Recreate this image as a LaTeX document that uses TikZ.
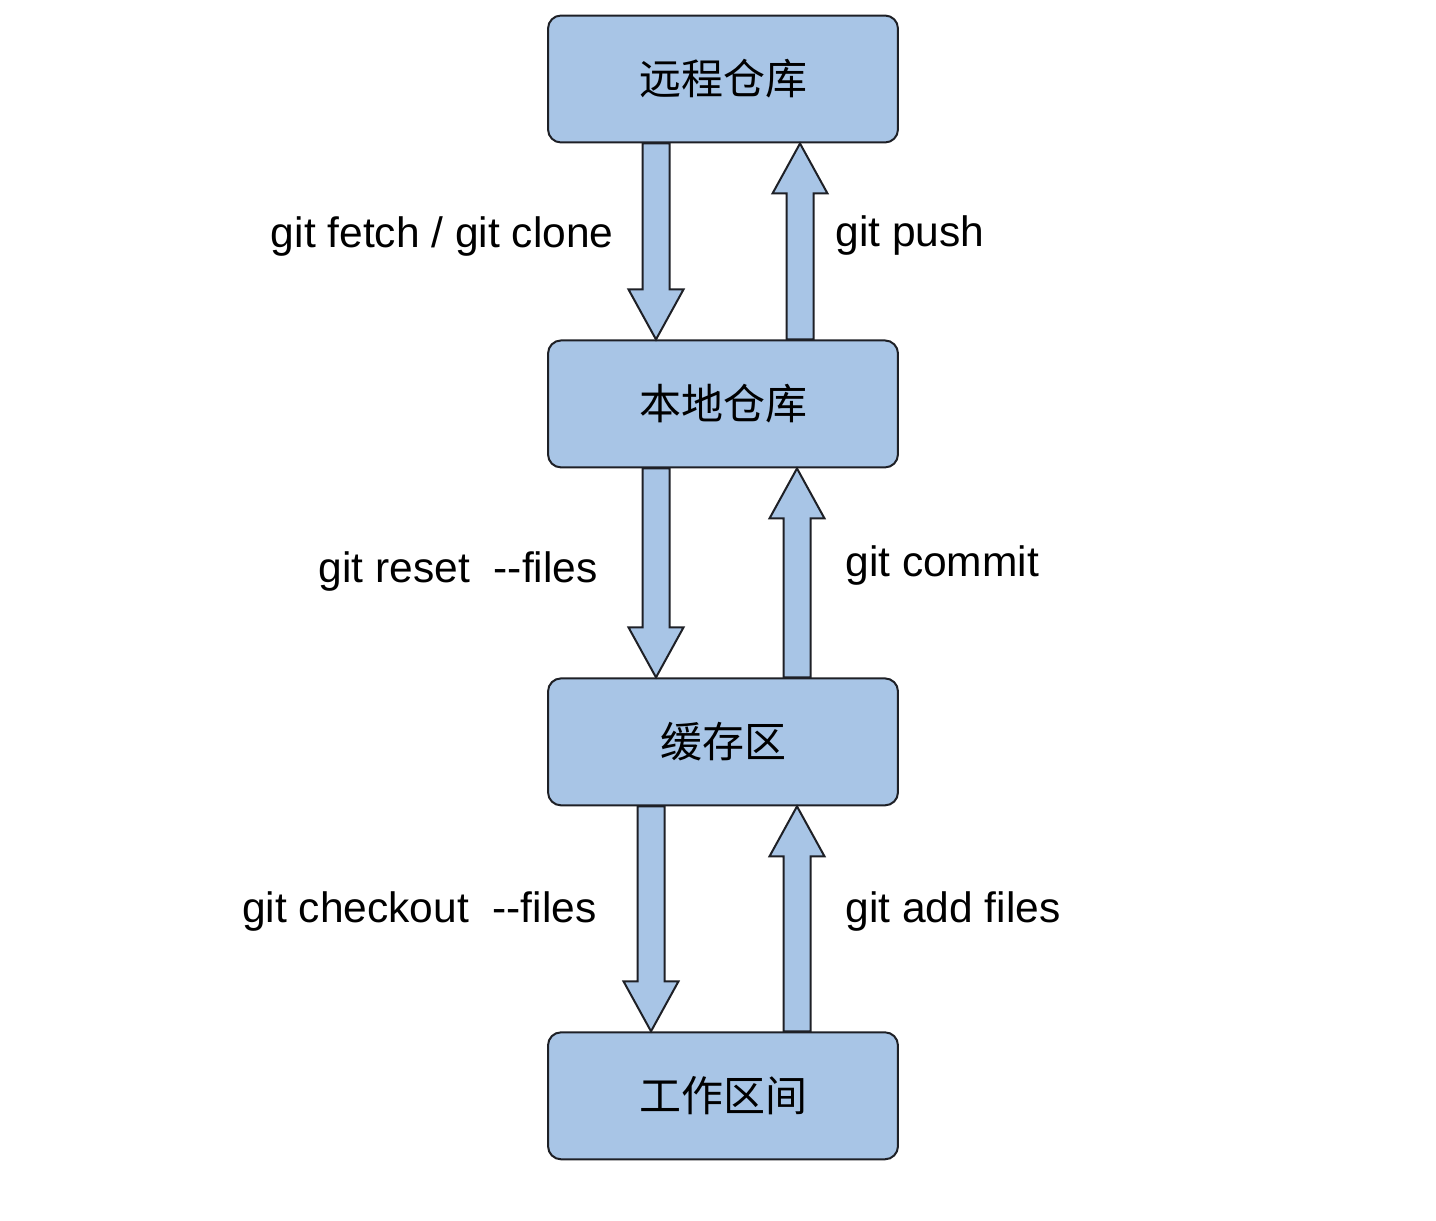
\documentclass[tikz,border=0pt]{standalone}
\usepackage{fontspec}
\setmainfont{Liberation Sans}
\newfontfamily\cjk{Noto Sans CJK SC}
\usepackage{tikz}
\usetikzlibrary{calc,positioning}

\definecolor{boxblue}{RGB}{168,197,230}
\definecolor{boxline}{RGB}{30,32,38}

\tikzset{
	stage/.style={draw=boxline,fill=boxblue,line width=0.04cm,rounded corners=0.26cm,
		minimum width=7.0cm,minimum height=2.54cm,font=\cjk\fontsize{23.9}{28}\selectfont},
	cmd/.style={inner sep=0pt,font=\fontsize{24.2}{28}\selectfont},
	fatarrow/.style={draw=boxline,fill=boxblue,line width=0.04cm,line join=miter}
}
% shaft half width, head half width, head length
\newcommand{\shaftw}{0.27cm}
\newcommand{\headw}{0.55cm}
\newcommand{\headlen}{1.0cm}
% vertical block arrow from #1 to #2
\newcommand{\blockarrow}[2]{%
	\draw[fatarrow] let \p1=(#1), \p2=(#2), \n1={sign(\y2-\y1)} in
	({\x1-\shaftw},\y1) -- ({\x1-\shaftw},{\y2-(\n1)*\headlen}) -- ({\x1-\headw},{\y2-(\n1)*\headlen})
	-- (\x1,\y2) -- ({\x1+\headw},{\y2-(\n1)*\headlen}) -- ({\x1+\shaftw},{\y2-(\n1)*\headlen})
	-- ({\x1+\shaftw},\y1) -- cycle;}

\begin{document}
\begin{tikzpicture}[x=0.02cm,y=-0.02cm]
		\useasboundingbox (0,0) rectangle (1436,1220);
		\node[stage] (remote) at (723,79) {远程仓库};
		\node[stage,below=3.92cm of remote] (local) {本地仓库};
		\node[stage,below=4.18cm of local] (cache) {缓存区};
		\node[stage,below=4.5cm of cache] (work) {工作区间};
		
		\blockarrow{$(remote.south)+(-67,0)$}{$(local.north)+(-67,0)$}
		\blockarrow{$(local.north)+(77,0)$}{$(remote.south)+(77,0)$}
		\blockarrow{$(local.south)+(-67,0)$}{$(cache.north)+(-67,0)$}
		\blockarrow{$(cache.north)+(74,0)$}{$(local.south)+(74,0)$}
		\blockarrow{$(cache.south)+(-72,0)$}{$(work.north)+(-72,0)$}
		\blockarrow{$(work.north)+(74,0)$}{$(cache.south)+(74,0)$}
		
		\node[cmd,anchor=base east] (fetch) at (614,247) {git fetch / git clone};
		\node[cmd,anchor=base west] (push) at (835,246) {git push};
		\node[cmd,anchor=base east] (reset) at (598,582) {git reset\ \ -{}-files};
		\node[cmd,anchor=base west] (commit) at (845,576) {git commit};
		\node[cmd,anchor=base east] (checkout) at (597,922) {git checkout\ \ -{}-files};
		\node[cmd,anchor=base west] (add) at (845,922) {git add files};
		
\end{tikzpicture}
\end{document}
